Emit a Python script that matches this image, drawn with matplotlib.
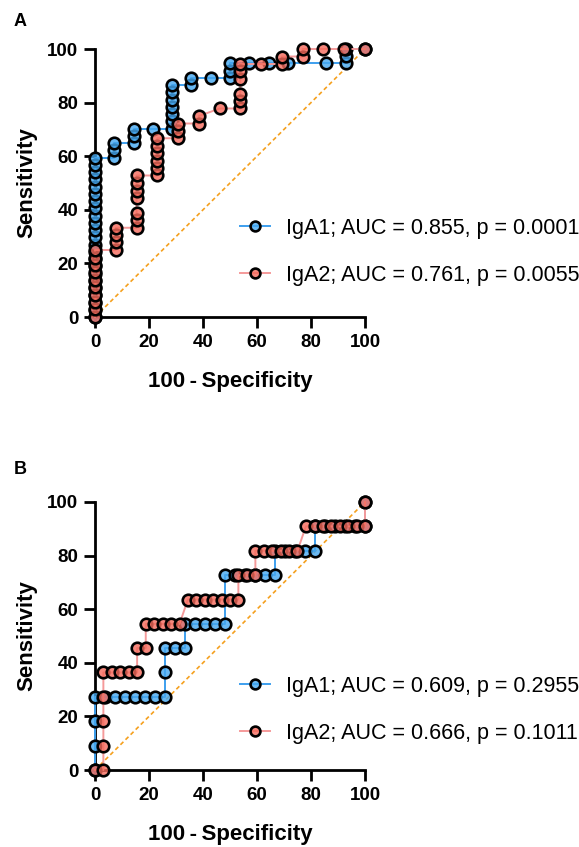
import numpy as np
import matplotlib
matplotlib.use("Agg")
import matplotlib.pyplot as plt

plt.rcParams['font.family'] = ['Liberation Sans', 'DejaVu Sans']

## Data (100-Specificity %, Sensitivity %)
# Panel A, IgA1
a_iga1_x = [0]*23 + [7.1]*3 + [14.3]*3 + [21.4] + [28.6]*7 + [35.7]*2 + [42.9] \
    + [50.0]*3 + [57.1, 64.3, 71.4, 85.7] + [92.9]*3 + [100]
a_iga1_y = [0, 2.7, 5.4, 8.1, 10.8, 13.5, 16.2, 18.9, 21.6, 24.3, 27.0, 29.7,
            32.4, 35.1, 37.8, 40.5, 43.2, 45.9, 48.6, 51.4, 54.1, 56.8, 59.5,
            59.5, 62.2, 64.9,
            64.9, 67.6, 70.3,
            70.3,
            70.3, 73.0, 75.7, 78.4, 81.1, 83.8, 86.5,
            86.5, 89.2,
            89.2,
            89.2, 91.9, 94.6,
            94.6, 94.6, 94.6, 94.6,
            94.6, 97.3, 100,
            100]

# Panel A, IgA2
a_iga2_x = [0]*10 + [7.7]*4 + [15.4]*7 + [23.1]*6 + [30.8]*3 + [38.5]*2 \
    + [46.2] + [53.8]*6 + [61.5] + [69.2]*2 + [76.9]*2 + [84.6, 92.3, 100]
a_iga2_y = [0, 2.8, 5.6, 8.3, 11.1, 13.9, 16.7, 19.4, 22.2, 25.0,
            25.0, 27.8, 30.6, 33.3,
            33.3, 36.1, 38.9, 44.4, 47.2, 50.0, 52.8,
            52.8, 55.6, 58.3, 61.1, 63.9, 66.7,
            66.7, 69.4, 72.2,
            72.2, 75.0,
            77.8,
            77.8, 80.6, 83.3, 88.9, 91.7, 94.4,
            94.4,
            94.4, 97.2,
            97.2, 100,
            100, 100, 100]

# Panel B, IgA1
b_iga1_x = [0, 0, 0, 0, 3.7, 7.4, 11.1, 14.8, 18.5, 22.2, 25.9, 25.9, 25.9,
            29.6, 33.3, 33.3, 37.0, 40.7, 44.4, 48.1, 48.1, 51.9, 55.6, 59.3,
            63.0, 66.7, 66.7, 70.4, 74.1, 77.8, 81.5, 81.5, 85.2, 88.9, 92.6,
            96.3, 100, 100]
b_iga1_y = [0, 9.1, 18.2, 27.3, 27.3, 27.3, 27.3, 27.3, 27.3, 27.3, 27.3, 36.4,
            45.5, 45.5, 45.5, 54.5, 54.5, 54.5, 54.5, 54.5, 72.7, 72.7, 72.7,
            72.7, 72.7, 72.7, 81.8, 81.8, 81.8, 81.8, 81.8, 90.9, 90.9, 90.9,
            90.9, 90.9, 90.9, 100]

# Panel B, IgA2
b_iga2_x = [0, 3.1, 3.1, 3.1, 3.1, 3.1, 6.3, 9.4, 12.5, 15.6, 15.6, 18.8,
            18.8, 21.9, 25.0, 28.1, 31.3, 34.4, 37.5, 40.6, 43.8, 46.9, 50.0,
            53.1, 53.1, 56.3, 59.4, 59.4, 62.5, 65.6, 68.8, 71.9, 75.0, 78.1,
            81.3, 84.4, 87.5, 90.6, 93.8, 96.9, 100, 100]
b_iga2_y = [0, 0, 9.1, 18.2, 27.3, 36.4, 36.4, 36.4, 36.4, 36.4, 45.5, 45.5,
            54.5, 54.5, 54.5, 54.5, 54.5, 63.6, 63.6, 63.6, 63.6, 63.6, 63.6,
            63.6, 72.7, 72.7, 72.7, 81.8, 81.8, 81.8, 81.8, 81.8, 81.8, 90.9,
            90.9, 90.9, 90.9, 90.9, 90.9, 90.9, 90.9, 100]

labels_a = ["IgA1; AUC = 0.855, p = 0.0001", "IgA2; AUC = 0.761, p = 0.0055"]
labels_b = ["IgA1; AUC = 0.609, p = 0.2955", "IgA2; AUC = 0.666, p = 0.1011"]

ticks = [0, 20, 40, 60, 80, 100]

blue_fill = (0.27, 0.66, 0.94, 0.8)
red_fill = (0.96, 0.42, 0.36, 0.8)
blue_line = "#3d9fee"
red_line = "#f59a9a"

W, H = 579, 847
fig = plt.figure(figsize=(W/100, H/100), dpi=100)

ax_a = fig.add_axes([95/W, 1 - 317/H, 270/W, 268/H])
ax_b = fig.add_axes([95/W, 1 - 770/H, 270/W, 268/H])


def draw_panel(ax, x1, y1, x2, y2, labels, leg_top):
    # chance line first so the curves sit on top
    ax.plot([0, 100], [0, 100], color="#f5a01e", lw=1.2,
            dashes=(2.5, 1.8), zorder=1, clip_on=False)
    ax.plot(x1, y1, color=blue_line, lw=1.4, marker="o", ms=8.3,
            mfc=blue_fill, mec="black", mew=1.9, label=labels[0],
            zorder=3, clip_on=False)
    ax.plot(x2, y2, color=red_line, lw=1.4, marker="o", ms=8.3,
            mfc=red_fill, mec="black", mew=1.9, label=labels[1],
            zorder=4, clip_on=False)

    ax.set_xlim(0, 100)
    ax.set_ylim(0, 100)
    ax.set_xticks(ticks)
    ax.set_yticks(ticks)
    for side in ["top", "right"]:
        ax.spines[side].set_visible(False)
    for side in ["left", "bottom"]:
        ax.spines[side].set_linewidth(2)
    ax.tick_params(direction="out", length=8, width=2, labelsize=13.5, pad=4)
    for lab in ax.get_xticklabels() + ax.get_yticklabels():
        lab.set_fontweight("bold")

    ax.set_xlabel("100\u2009-\u2009Specificity", fontsize=16, fontweight="bold")
    ax.set_ylabel("Sensitivity", fontsize=16, fontweight="bold")
    ax.xaxis.set_label_coords(0.5, -0.2)
    ax.yaxis.set_label_coords(-0.215, 0.5)

    ax.legend(loc="upper left", bbox_to_anchor=(240/W, 1 - leg_top/H),
              bbox_transform=fig.transFigure, frameon=False, fontsize=15.5,
              handlelength=1.4, handletextpad=0.75, labelspacing=1.2,
              borderpad=0, borderaxespad=0, markerscale=0.85)


draw_panel(ax_a, a_iga1_x, a_iga1_y, a_iga2_x, a_iga2_y, labels_a, 218)
draw_panel(ax_b, b_iga1_x, b_iga1_y, b_iga2_x, b_iga2_y, labels_b, 676)

fig.text(14/W, 1 - 13/H, "A", fontsize=13, fontweight="bold", va="top")
fig.text(14/W, 1 - 461/H, "B", fontsize=13, fontweight="bold", va="top")

fig.savefig("out.png", dpi=100)
